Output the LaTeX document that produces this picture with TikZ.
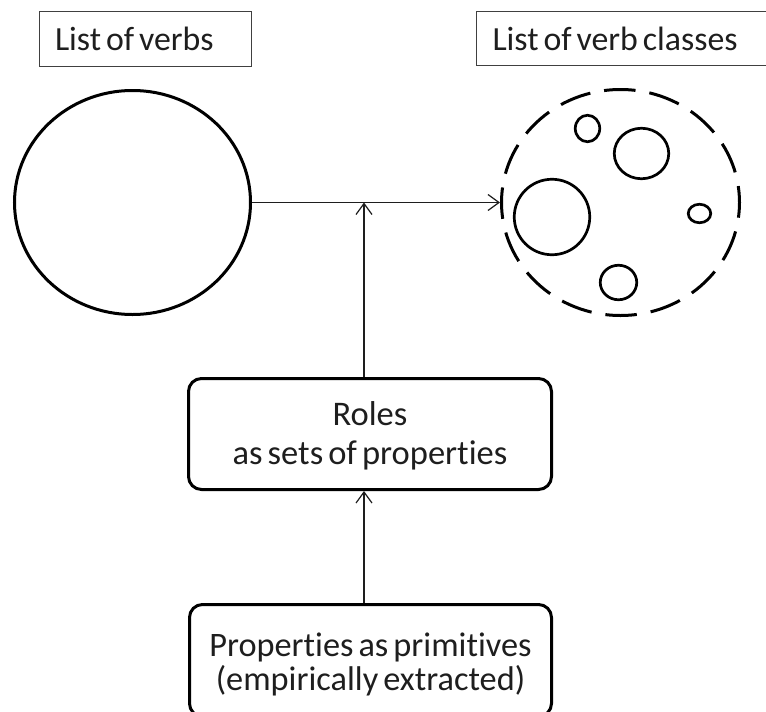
\documentclass[tikz,border=0pt]{standalone}
\usepackage{fontspec}
\setmainfont{Carlito}[Ligatures={NoCommon}, WordSpace=0.65]
\usetikzlibrary{shapes.geometric,arrows.meta}
\definecolor{ink}{HTML}{1E1E1E}
\tikzset{
  titlebox/.style={draw=ink!85, line width=1.3pt, rectangle, align=flush left,
    font=\fontsize{33.8}{39}\selectfont, text=ink, text depth=0pt, inner ysep=0pt},
  setshape/.style={draw=black, ellipse, inner sep=0pt, line width=3pt},
  subset/.style={draw=black, ellipse, inner sep=0pt, line width=2.7pt},
  stagebox/.style={draw=black, rectangle, rounded corners=13pt, line width=3pt,
    align=center, text=ink, inner sep=0pt},
  conn/.style={draw=ink, line width=1.2pt, -{Straight Barb[length=11pt,width=16pt]}},
}
\begin{document}
\begin{tikzpicture}[x=1pt,y=-1pt]
\useasboundingbox (0,0) rectangle (766,712);
\clip (0,0) rectangle (766,712);

% title boxes
\node[titlebox, minimum width=211.7pt, minimum height=54.7pt, text width=181pt,
      inner xsep=15.35pt, text height=22pt] (lverbs) at (145.5,39) {List of verbs};
\node[titlebox, minimum width=302.7pt, minimum height=53.7pt, text width=270pt,
      inner xsep=16.35pt, text height=23pt] (lclasses) at (627.5,38.5) {List of verb classes};

% sets
\node[setshape, minimum width=236pt, minimum height=224pt] (verbs) at (132.5,202.5) {};
\node[setshape, minimum width=238pt, minimum height=226pt,
      dash pattern=on 31.5pt off 14.05pt, dash phase=15pt] (classes) at (620.5,202.5) {};

% classes inside
\node[subset, minimum width=24.5pt, minimum height=26.5pt] (c1) at (587.5,128.5) {};
\node[subset, minimum width=54.5pt, minimum height=50.5pt] (c2) at (641.5,153.5) {};
\node[subset, minimum width=75.5pt, minimum height=75.5pt] (c3) at (552,217) {};
\node[subset, minimum width=22.5pt, minimum height=18.5pt] (c4) at (699.5,213.5) {};
\node[subset, minimum width=36.5pt, minimum height=34.5pt] (c5) at (618.5,282.5) {};

% stage boxes
\node[stagebox, minimum width=363pt, minimum height=111pt,
      font=\fontsize{34.5}{39}\selectfont, text height=61pt, text depth=1pt]
      (roles) at (370,434) {Roles\\as sets of properties};
\node[stagebox, minimum width=362pt, minimum height=112pt,
      font=\fontsize{34.3}{33.5}\selectfont, text height=60pt, text depth=1pt]
      (props) at (370.5,660.5) {Properties as primitives\\(empirically extracted)};

% connectors
\coordinate (junction) at (364,202.5);
\draw[conn] (verbs.east) -- (classes.west);
\draw[conn] (roles.north -| junction) -- (junction);
\draw[conn] (props.north -| junction) -- (roles.south -| junction);
\end{tikzpicture}
\end{document}
